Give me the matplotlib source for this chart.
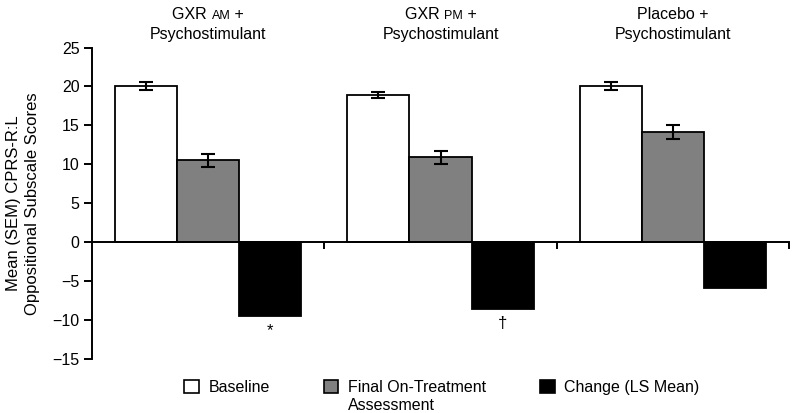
import numpy as np
import matplotlib.pyplot as plt
from matplotlib.patches import Patch

plt.rcParams['font.family'] = ['Liberation Sans', 'DejaVu Sans']

# data
groups = ["GXR AM", "GXR PM", "Placebo"]
baseline = [20.1, 18.9, 20.1]
baseline_err = [0.5, 0.4, 0.5]
final = [10.5, 10.9, 14.1]
final_err = [0.8, 0.8, 0.9]
change = [-9.5, -8.6, -5.9]
marks = ["*", "\u2020", ""]

fig = plt.figure(figsize=(7.92, 4.13), dpi=100)
ax = fig.add_axes([92/792, 1 - 359/413, (789 - 92)/792, (359 - 47.5)/413])

x = np.arange(len(groups))
w = 0.267
ekw = dict(elinewidth=1.5, capthick=1.5, capsize=5, ecolor='black')
ax.bar(x - w, baseline, w, yerr=baseline_err, color='white', edgecolor='black',
       linewidth=1.3, error_kw=ekw, zorder=2)
ax.bar(x, final, w, yerr=final_err, color='#808080', edgecolor='black',
       linewidth=1.3, error_kw=ekw, zorder=2)
ax.bar(x + w, change, w, color='black', edgecolor='black', linewidth=1.3, zorder=2)

for xi, v, m in zip(x, change, marks):
    if m:
        ax.annotate(m, (xi + w, v), xytext=(0, -5), textcoords='offset points',
                    ha='center', va='top', fontsize=12)

ax.set_xlim(-0.5, 2.5)
ax.set_ylim(-15, 25)
ax.set_yticks(np.arange(-15, 26, 5))
ax.set_yticklabels([f"{t:d}".replace('-', '\u2212') for t in range(-15, 26, 5)])
ax.set_xticks([0.5, 1.5, 2.5])
ax.set_xticklabels([])
ax.spines['bottom'].set_position(('data', 0))
ax.spines['top'].set_visible(False)
ax.spines['right'].set_visible(False)
for s in ['left', 'bottom']:
    ax.spines[s].set_linewidth(1.4)
ax.tick_params(axis='y', length=6, width=1.4, labelsize=11.5, pad=3)
ax.tick_params(axis='x', length=5, width=1.4)
ax.set_ylabel("Mean (SEM) CPRS-R:L\nOppositional Subscale Scores", fontsize=12,
              labelpad=9, linespacing=1.35)

# group titles, with small "AM"/"PM"
fs = 11.5
renderer = fig.canvas.get_renderer()
titles = [("GXR ", "AM", " +"), ("GXR ", "PM", " +"), ("Placebo +", "", "")]
for xi, parts in zip(x, titles):
    cx = ax.transData.transform((xi, 0))[0]
    texts = []
    for s, size in zip(parts, [fs, 9, fs]):
        if s:
            texts.append(fig.text(0, 1 - 19/413, s, fontsize=size, va='baseline'))
    ws = [t.get_window_extent(renderer).width for t in texts]
    x0 = cx - sum(ws)/2
    for t, wd in zip(texts, ws):
        t.set_x(x0/792)
        x0 += wd
    fig.text(cx/792, 1 - 39/413, "Psychostimulant", fontsize=fs, ha='center', va='baseline')

# legend; second label wraps onto a line under the first
handles = [Patch(facecolor='white', edgecolor='black', linewidth=1.2),
           Patch(facecolor='#808080', edgecolor='black', linewidth=1.2),
           Patch(facecolor='black', edgecolor='black', linewidth=1.2)]
labels = ["Baseline", "Final On-Treatment", "Change (LS Mean)"]
leg = ax.legend(handles, labels, loc='upper center', bbox_to_anchor=(0.5, 1 - 372/413),
                bbox_transform=fig.transFigure, ncol=3, frameon=False, fontsize=11.5,
                handlelength=0.9, handleheight=0.9, handletextpad=0.6, columnspacing=3.4,
                borderpad=0)
leg.set_bbox_to_anchor((442/792, 1 - 372/413), transform=fig.transFigure)
fig.canvas.draw()
bb = leg.get_texts()[1].get_window_extent(renderer)
fig.text(bb.x0/792, (bb.y0 - 18)/413, "Assessment", fontsize=11.5, va='bottom')

fig.savefig("out.png", dpi=100)
